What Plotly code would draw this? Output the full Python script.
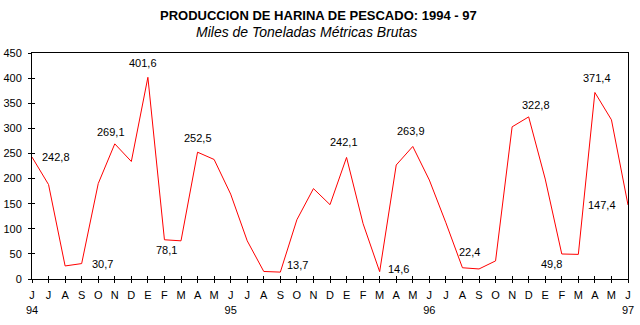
import plotly.graph_objects as go

# Monthly fishmeal production, June 1994 - June 1997 (thousand gross metric tons)
month_letters = ["J", "J", "A", "S", "O", "N", "D", "E", "F", "M", "A", "M"] * 3 + ["J"]
year_labels = {0: "94", 12: "95", 24: "96", 36: "97"}
production = [
    242.8, 188, 26, 30.7, 190, 269.1, 234,
    401.6, 78.1, 76, 252.5, 238, 169,
    76, 15, 13.7, 118, 180, 148,
    242.1, 110, 14.6, 227, 263.9, 197,
    112, 22.4, 20, 36, 303, 322.8,
    199, 49.8, 49, 371.4, 317, 147.4,
]

# Points that carry a value label, with label placement (xanchor, xshift, yshift)
labelled_points = [0, 3, 5, 7, 8, 10, 15, 19, 21, 23, 26, 30, 32, 34, 36]
label_place = {
    0: ("left", 8, 0), 3: ("left", 8, 0), 5: ("center", -4, 12),
    7: ("center", -5, 14), 8: ("center", 2, -10), 10: ("center", 0, 14),
    15: ("left", 5, 7), 19: ("center", -3, 15), 21: ("left", 6, 3),
    23: ("center", -2, 15), 26: ("center", 7, 16), 30: ("center", 7, 12),
    32: ("center", -10, -10), 34: ("center", 2, 14), 36: ("right", -10, 0),
}

x_idx = list(range(len(production)))
tick_text = [
    m + ("<br>" + year_labels[i] if i in year_labels else "")
    for i, m in enumerate(month_letters)
]

FONT = "Liberation Sans, Arial, sans-serif"

fig = go.Figure()
fig.add_trace(go.Scatter(
    x=x_idx, y=production, mode="lines",
    line=dict(color="#FF0000", width=1),
    hoverinfo="skip", showlegend=False,
))
# invisible trace that carries the inside-tick overlay axes
fig.add_trace(go.Scatter(
    x=[0, 36], y=[0, 450], xaxis="x2", yaxis="y2", mode="markers",
    marker=dict(opacity=0), hoverinfo="skip", showlegend=False,
))

for i in labelled_points:
    anchor, dx, dy = label_place[i]
    fig.add_annotation(
        x=i, y=production[i], text=f"{production[i]:.1f}".replace(".", ","),
        showarrow=False, xanchor=anchor, yanchor="middle",
        xshift=dx, yshift=dy, font=dict(family=FONT, size=11, color="black"),
    )

fig.add_annotation(
    xref="paper", yref="paper", x=0.4807, y=1.168,
    text="<b>PRODUCCION DE HARINA DE PESCADO: 1994 - 97</b>",
    showarrow=False, xanchor="center", yanchor="middle",
    font=dict(family=FONT, size=13, color="black"),
)
fig.add_annotation(
    xref="paper", yref="paper", x=0.4605, y=1.093,
    text="<i>Miles de Toneladas Métricas Brutas</i>",
    showarrow=False, xanchor="center", yanchor="middle",
    font=dict(family=FONT, size=14, color="black"),
)

axis_common = dict(
    showgrid=False, zeroline=False, linecolor="black", linewidth=1,
    tickcolor="black", tickwidth=1, automargin=False,
)

fig.update_layout(
    width=640, height=325,
    margin=dict(l=32, r=12, t=53, b=46, autoexpand=False),
    paper_bgcolor="white", plot_bgcolor="white",
    font=dict(family=FONT, size=11, color="black"),
    xaxis=dict(
        range=[0, 36], tickmode="array", tickvals=x_idx, ticktext=tick_text,
        ticks="outside", ticklen=3, showline=True, mirror=True,
        ticklabelstandoff=3,
        tickfont=dict(family=FONT, size=11, color="black"), **axis_common,
    ),
    yaxis=dict(
        range=[0, 450], tickmode="array", tickvals=list(range(0, 451, 50)),
        ticks="outside", ticklen=3, showline=True, mirror=True,
        ticklabelstandoff=4,
        tickfont=dict(family=FONT, size=11, color="black"), **axis_common,
    ),
    xaxis2=dict(
        overlaying="x", anchor="y2", side="bottom", range=[0, 36],
        tickmode="array", tickvals=x_idx, ticks="inside", ticklen=3,
        showticklabels=False, showline=False, **axis_common,
    ),
    yaxis2=dict(
        overlaying="y", anchor="x2", side="left", range=[0, 450],
        tickmode="array", tickvals=list(range(0, 451, 50)), ticks="inside",
        ticklen=3, showticklabels=False, showline=False, **axis_common,
    ),
)

fig.write_html("out.html")
